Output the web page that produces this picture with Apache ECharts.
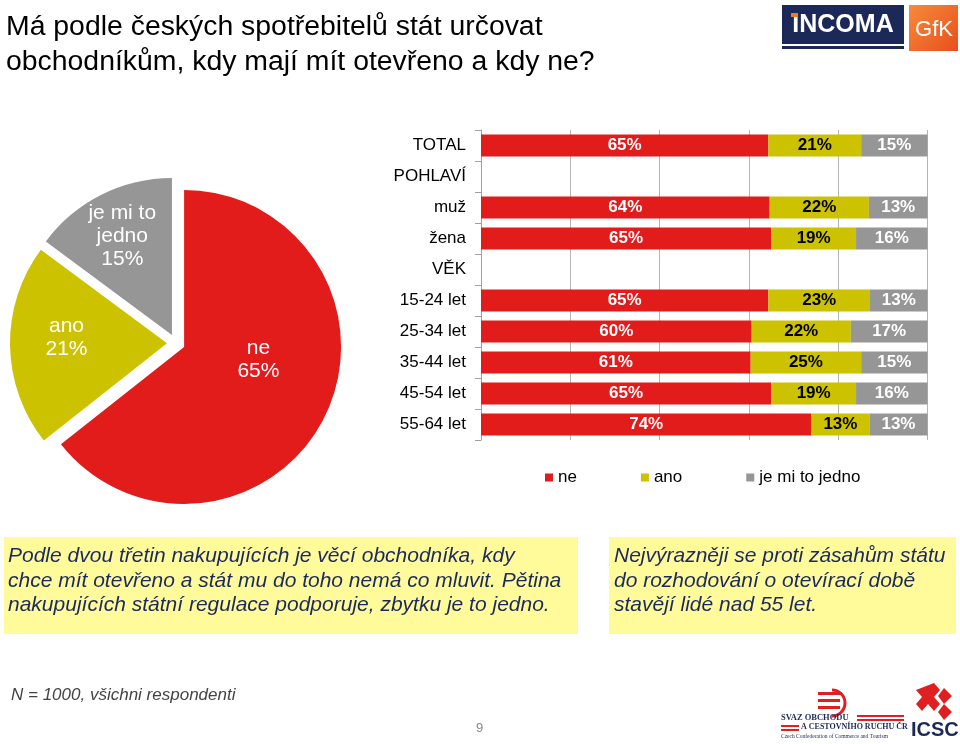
<!DOCTYPE html>
<html><head><meta charset="utf-8">
<script src="https://cdn.jsdelivr.net/npm/echarts@6/dist/echarts.min.js"></script>
<style>html,body{margin:0;padding:0;background:#fff}#c{width:960px;height:744px}</style>
</head><body><div id="c"></div>
<script>
var categories = ['TOTAL','POHLAVÍ','muž','žena','VĚK','15-24 let','25-34 let','35-44 let','45-54 let','55-64 let'];
var neValues = [65,null,64,65,null,65,60,61,65,74];
var anoValues = [21,null,22,19,null,23,22,25,19,13];
var jednoValues = [15,null,13,16,null,13,17,15,16,13];
var seriesNames = ['ne','ano','je mi to jedno'];
var pieValues = [65,21,15];

var colors = ['#E21B1B','#CCC200','#969696'];
var F = '"Liberation Sans", Arial, sans-serif';

function norm(arr, i) {
  var s = (neValues[i]||0)+(anoValues[i]||0)+(jednoValues[i]||0);
  var v = arr[i];
  return v == null ? null : {value: v / s * 100, raw: v};
}
function build(arr){ return arr.map(function(v,i){ return norm(arr,i); }); }

var labelFmt = function(p){ return p.data && p.data.raw != null ? p.data.raw + '%' : ''; };

var chart = echarts.init(document.getElementById('c'));
var pieShift = [[1,-23],[-19,-7],[-13,-26]];
chart.setOption({
  animation: false,
  textStyle: {fontFamily: F},
  color: colors,
  grid: {left: 481, right: 32.5, top: 130, bottom: 304, containLabel: false},
  xAxis: {type: 'value', min: 0, max: 100, interval: 20,
    axisLabel: {show: false}, axisLine: {show: false}, axisTick: {show: false},
    splitLine: {show: true, lineStyle: {color: '#B4B4B4', width: 1}}},
  yAxis: {type: 'category', data: categories, inverse: true,
    axisLine: {show: true, lineStyle: {color: '#A0A0A0'}},
    axisTick: {show: true, length: 6, lineStyle: {color: '#A0A0A0'}},
    axisLabel: {color: '#000', fontSize: 17, margin: 15, fontFamily: F}},
  legend: {data: seriesNames, left: 540, top: 464, icon: 'rect', itemWidth: 8, itemHeight: 8,
    itemGap: 64, textStyle: {fontSize: 17, color: '#000', fontFamily: F},
    selectedMode: false},
  series: [
    {name: seriesNames[0], type: 'bar', stack: 's', data: build(neValues), barWidth: 22,
      label: {show: true, position: 'inside', color: '#fff', fontWeight: 'bold', fontSize: 17, formatter: labelFmt}},
    {name: seriesNames[1], type: 'bar', stack: 's', data: build(anoValues), barWidth: 22,
      label: {show: true, position: 'inside', color: '#000', fontWeight: 'bold', fontSize: 17, formatter: labelFmt}},
    {name: seriesNames[2], type: 'bar', stack: 's', data: build(jednoValues), barWidth: 22,
      label: {show: true, position: 'inside', color: '#fff', fontWeight: 'bold', fontSize: 17, formatter: labelFmt}},
    {type: 'pie', center: [176, 343], radius: [0, 157], startAngle: 90, clockwise: true,
      selectedMode: 'multiple', selectedOffset: 9, emphasis: {disabled: true},
      label: {show: true, position: 'inside', color: '#fff', fontSize: 21, lineHeight: 23,
        formatter: function(p){ var n = p.name === 'je mi to jedno' ? 'je mi to\njedno' : p.name; return n + '\n' + p.value + '%'; }},
      labelLayout: function(p){ var s = pieShift[p.dataIndex] || [0,0]; return {dx: s[0], dy: s[1]}; },
      labelLine: {show: false},
      data: pieValues.map(function(v,i){ return {name: seriesNames[i], value: v, selected: true,
        itemStyle: {color: colors[i]}}; })}
  ],
  graphic: [
    {type: 'text', left: 6, top: 10, style: {text: 'Má podle českých spotřebitelů stát určovat\nobchodníkům, kdy mají mít otevřeno a kdy ne?',
      font: '28.4px ' + F, fill: '#000', lineHeight: 35}},
    // INCOMA logo
    {type: 'rect', shape: {x: 782, y: 5, width: 122, height: 39}, style: {fill: '#1C2857'}},
    {type: 'rect', shape: {x: 782, y: 46, width: 122, height: 3}, style: {fill: '#1C2857'}},
    {type: 'text', x: 843, y: 25, style: {text: 'INCOMA', font: 'bold 25px ' + F, fill: '#fff', align: 'center', verticalAlign: 'middle'}},
    {type: 'rect', shape: {x: 791, y: 13, width: 7, height: 4}, style: {fill: '#F07A22'}},
    {type: 'rect', shape: {x: 909, y: 5, width: 49, height: 46}, style: {fill: new echarts.graphic.LinearGradient(0,0,1,1,[{offset:0,color:'#F68A3C'},{offset:1,color:'#E8501B'}])}},
    {type: 'text', x: 934, y: 30, style: {text: 'GfK', font: '22px ' + F, fill: '#fff', align: 'center', verticalAlign: 'middle'}},
    // text boxes
    {type: 'rect', shape: {x: 4, y: 537, width: 574, height: 97}, style: {fill: '#FFFA9A'}},
    {type: 'text', left: 8, top: 544, style: {text: 'Podle dvou třetin nakupujících je věcí obchodníka, kdy\nchce mít otevřeno a stát mu do toho nemá co mluvit. Pětina\nnakupujících státní regulace podporuje, zbytku je to jedno.',
      font: 'italic 21px ' + F, fill: '#1B2A5C', lineHeight: 24.5}},
    {type: 'rect', shape: {x: 609, y: 537, width: 347, height: 97}, style: {fill: '#FFFA9A'}},
    {type: 'text', left: 614, top: 544, style: {text: 'Nejvýrazněji se proti zásahům státu\ndo rozhodování o otevírací době\nstavějí lidé nad 55 let.',
      font: 'italic 21px ' + F, fill: '#1B2A5C', lineHeight: 24.5}},
    // footer
    {type: 'text', left: 11, top: 687, style: {text: 'N = 1000, všichni respondenti', font: 'italic 17px ' + F, fill: '#444'}},
    {type: 'text', left: 476, top: 722, style: {text: '9', font: '13px ' + F, fill: '#888'}},
    // SVAZ OBCHODU logo
    {type: 'rect', shape: {x: 818, y: 692, width: 24, height: 3}, style: {fill: '#E02020'}},
    {type: 'rect', shape: {x: 818, y: 699, width: 22, height: 3}, style: {fill: '#E02020'}},
    {type: 'rect', shape: {x: 818, y: 706, width: 22, height: 3}, style: {fill: '#E02020'}},
    {type: 'arc', shape: {cx: 832, cy: 703, r: 13, startAngle: -Math.PI/2, endAngle: Math.PI/2}, style: {stroke: '#E02020', lineWidth: 3, fill: null}},
    {type: 'text', left: 781, top: 713, style: {text: 'SVAZ OBCHODU', font: 'bold 8.5px "Liberation Serif", serif', fill: '#1C2857'}},
    {type: 'rect', shape: {x: 857, y: 715, width: 47, height: 2}, style: {fill: '#E02020'}},
    {type: 'rect', shape: {x: 857, y: 719, width: 47, height: 2}, style: {fill: '#E02020'}},
    {type: 'rect', shape: {x: 781, y: 725, width: 18, height: 2}, style: {fill: '#E02020'}},
    {type: 'rect', shape: {x: 781, y: 729, width: 18, height: 2}, style: {fill: '#E02020'}},
    {type: 'text', left: 801, top: 723, style: {text: 'A CESTOVNÍHO RUCHU ČR', font: 'bold 8px "Liberation Serif", serif', fill: '#1C2857'}},
    {type: 'text', left: 781, top: 734, style: {text: 'Czech Confederation of Commerce and Tourism', font: '5.5px "Liberation Serif", serif', fill: '#1C2857'}},
    // ICSC logo
    {type: 'polygon', shape: {points: [[934,683],[940,690],[934,697],[940,704],[934,711],[928,704],[922,711],[916,704],[922,697],[916,690]]}, style: {fill: '#E02020'}},
    {type: 'polygon', shape: {points: [[944,688],[952,696],[944,704],[952,712],[944,720],[938,712],[944,704],[938,696]]}, style: {fill: '#E02020'}},
    {type: 'text', left: 911, top: 720, style: {text: 'ICSC', font: 'bold 20px ' + F, fill: '#1C2857'}}
  ]
});
</script></body></html>
